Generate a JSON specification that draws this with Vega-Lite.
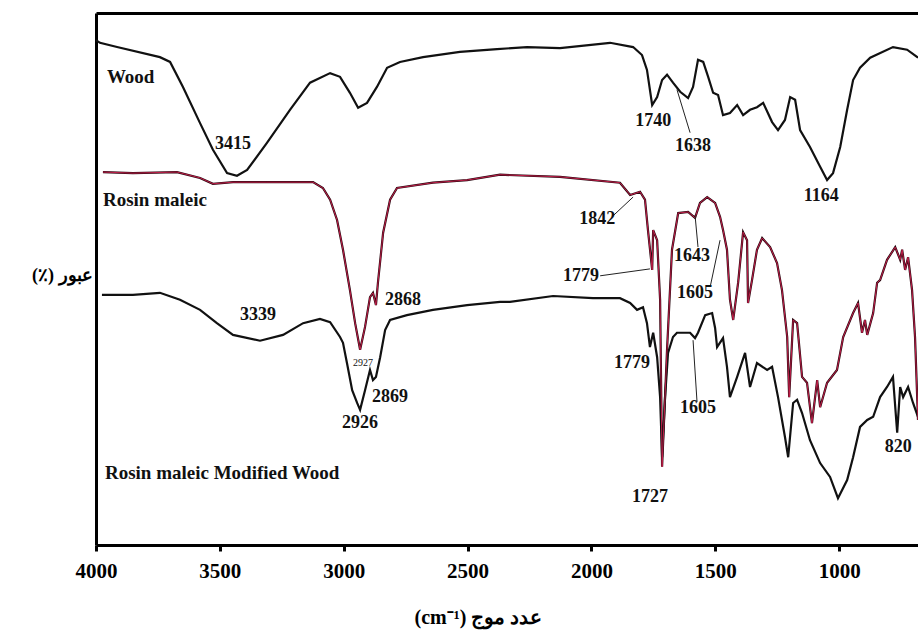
{
  "$schema": "https://vega.github.io/schema/vega-lite/v6.json",
  "width": 822,
  "height": 532,
  "autosize": {"type": "none"},
  "padding": {"left": 96, "top": 13, "right": 0, "bottom": 89},
  "background": "white",
  "config": {"view": {"stroke": null}, "font": "Liberation Serif"},
  "datasets": {
    "spectra": [
      {"s": "Wood", "wn": 4000, "t": 94.9}, {"s": "Wood", "wn": 3984, "t": 94.4}, {"s": "Wood", "wn": 3915, "t": 93.6}, {"s": "Wood", "wn": 3742, "t": 91.7}, {"s": "Wood", "wn": 3701, "t": 90.8}, {"s": "Wood", "wn": 3649, "t": 86.1}, {"s": "Wood", "wn": 3580, "t": 79.3}, {"s": "Wood", "wn": 3528, "t": 74.3}, {"s": "Wood", "wn": 3471, "t": 69.9}, {"s": "Wood", "wn": 3431, "t": 69.4}, {"s": "Wood", "wn": 3390, "t": 70.5}, {"s": "Wood", "wn": 3310, "t": 75.6}, {"s": "Wood", "wn": 3217, "t": 81.8}, {"s": "Wood", "wn": 3136, "t": 86.9}, {"s": "Wood", "wn": 3055, "t": 88.7}, {"s": "Wood", "wn": 3015, "t": 88.0}, {"s": "Wood", "wn": 2975, "t": 85.0}, {"s": "Wood", "wn": 2942, "t": 82.2}, {"s": "Wood", "wn": 2906, "t": 83.1}, {"s": "Wood", "wn": 2866, "t": 86.1}, {"s": "Wood", "wn": 2825, "t": 89.7}, {"s": "Wood", "wn": 2773, "t": 90.8}, {"s": "Wood", "wn": 2680, "t": 91.7}, {"s": "Wood", "wn": 2531, "t": 92.7}, {"s": "Wood", "wn": 2381, "t": 93.2}, {"s": "Wood", "wn": 2260, "t": 93.6}, {"s": "Wood", "wn": 2127, "t": 93.4}, {"s": "Wood", "wn": 1925, "t": 94.4}, {"s": "Wood", "wn": 1832, "t": 93.6}, {"s": "Wood", "wn": 1796, "t": 92.1}, {"s": "Wood", "wn": 1776, "t": 89.3}, {"s": "Wood", "wn": 1755, "t": 82.7}, {"s": "Wood", "wn": 1735, "t": 84.2}, {"s": "Wood", "wn": 1715, "t": 87.4}, {"s": "Wood", "wn": 1695, "t": 88.4}, {"s": "Wood", "wn": 1671, "t": 86.9}, {"s": "Wood", "wn": 1642, "t": 85.2}, {"s": "Wood", "wn": 1610, "t": 84.0}, {"s": "Wood", "wn": 1590, "t": 86.1}, {"s": "Wood", "wn": 1570, "t": 91.2}, {"s": "Wood", "wn": 1549, "t": 90.8}, {"s": "Wood", "wn": 1529, "t": 88.0}, {"s": "Wood", "wn": 1509, "t": 85.0}, {"s": "Wood", "wn": 1489, "t": 84.6}, {"s": "Wood", "wn": 1469, "t": 80.8}, {"s": "Wood", "wn": 1441, "t": 81.2}, {"s": "Wood", "wn": 1412, "t": 82.7}, {"s": "Wood", "wn": 1388, "t": 80.8}, {"s": "Wood", "wn": 1360, "t": 81.8}, {"s": "Wood", "wn": 1332, "t": 82.3}, {"s": "Wood", "wn": 1307, "t": 83.1}, {"s": "Wood", "wn": 1271, "t": 79.5}, {"s": "Wood", "wn": 1247, "t": 78.0}, {"s": "Wood", "wn": 1219, "t": 79.9}, {"s": "Wood", "wn": 1198, "t": 84.2}, {"s": "Wood", "wn": 1178, "t": 83.7}, {"s": "Wood", "wn": 1158, "t": 78.0}, {"s": "Wood", "wn": 1118, "t": 74.8}, {"s": "Wood", "wn": 1077, "t": 71.1}, {"s": "Wood", "wn": 1049, "t": 68.6}, {"s": "Wood", "wn": 1025, "t": 69.9}, {"s": "Wood", "wn": 996, "t": 74.8}, {"s": "Wood", "wn": 968, "t": 81.8}, {"s": "Wood", "wn": 944, "t": 87.4}, {"s": "Wood", "wn": 916, "t": 89.7}, {"s": "Wood", "wn": 875, "t": 91.6}, {"s": "Wood", "wn": 783, "t": 93.6}, {"s": "Wood", "wn": 726, "t": 93.1}, {"s": "Wood", "wn": 682, "t": 91.6},

      {"s": "Rosin maleic", "wn": 3972, "t": 70.1}, {"s": "Rosin maleic", "wn": 3851, "t": 69.9}, {"s": "Rosin maleic", "wn": 3673, "t": 70.1}, {"s": "Rosin maleic", "wn": 3580, "t": 69.0}, {"s": "Rosin maleic", "wn": 3528, "t": 67.9}, {"s": "Rosin maleic", "wn": 3447, "t": 68.2}, {"s": "Rosin maleic", "wn": 3310, "t": 68.2}, {"s": "Rosin maleic", "wn": 3124, "t": 68.2}, {"s": "Rosin maleic", "wn": 3084, "t": 67.1}, {"s": "Rosin maleic", "wn": 3055, "t": 64.9}, {"s": "Rosin maleic", "wn": 3027, "t": 61.1}, {"s": "Rosin maleic", "wn": 3003, "t": 55.5}, {"s": "Rosin maleic", "wn": 2975, "t": 47.9}, {"s": "Rosin maleic", "wn": 2954, "t": 41.7}, {"s": "Rosin maleic", "wn": 2934, "t": 36.7}, {"s": "Rosin maleic", "wn": 2914, "t": 41.0}, {"s": "Rosin maleic", "wn": 2894, "t": 46.6}, {"s": "Rosin maleic", "wn": 2882, "t": 47.4}, {"s": "Rosin maleic", "wn": 2870, "t": 45.1}, {"s": "Rosin maleic", "wn": 2862, "t": 49.3}, {"s": "Rosin maleic", "wn": 2841, "t": 58.7}, {"s": "Rosin maleic", "wn": 2813, "t": 64.9}, {"s": "Rosin maleic", "wn": 2785, "t": 67.1}, {"s": "Rosin maleic", "wn": 2640, "t": 68.1}, {"s": "Rosin maleic", "wn": 2502, "t": 68.6}, {"s": "Rosin maleic", "wn": 2369, "t": 69.6}, {"s": "Rosin maleic", "wn": 2127, "t": 69.2}, {"s": "Rosin maleic", "wn": 1885, "t": 68.1}, {"s": "Rosin maleic", "wn": 1844, "t": 65.8}, {"s": "Rosin maleic", "wn": 1804, "t": 66.4}, {"s": "Rosin maleic", "wn": 1784, "t": 64.9}, {"s": "Rosin maleic", "wn": 1772, "t": 59.2}, {"s": "Rosin maleic", "wn": 1755, "t": 51.7}, {"s": "Rosin maleic", "wn": 1751, "t": 59.2}, {"s": "Rosin maleic", "wn": 1735, "t": 57.3}, {"s": "Rosin maleic", "wn": 1723, "t": 46.1}, {"s": "Rosin maleic", "wn": 1715, "t": 14.7}, {"s": "Rosin maleic", "wn": 1695, "t": 36.7}, {"s": "Rosin maleic", "wn": 1675, "t": 55.5}, {"s": "Rosin maleic", "wn": 1650, "t": 62.4}, {"s": "Rosin maleic", "wn": 1610, "t": 62.6}, {"s": "Rosin maleic", "wn": 1582, "t": 61.5}, {"s": "Rosin maleic", "wn": 1562, "t": 64.3}, {"s": "Rosin maleic", "wn": 1533, "t": 65.4}, {"s": "Rosin maleic", "wn": 1501, "t": 64.3}, {"s": "Rosin maleic", "wn": 1481, "t": 61.7}, {"s": "Rosin maleic", "wn": 1469, "t": 59.2}, {"s": "Rosin maleic", "wn": 1453, "t": 55.5}, {"s": "Rosin maleic", "wn": 1441, "t": 46.1}, {"s": "Rosin maleic", "wn": 1428, "t": 42.3}, {"s": "Rosin maleic", "wn": 1408, "t": 49.3}, {"s": "Rosin maleic", "wn": 1388, "t": 58.8}, {"s": "Rosin maleic", "wn": 1372, "t": 57.3}, {"s": "Rosin maleic", "wn": 1368, "t": 45.5}, {"s": "Rosin maleic", "wn": 1352, "t": 49.8}, {"s": "Rosin maleic", "wn": 1332, "t": 55.5}, {"s": "Rosin maleic", "wn": 1311, "t": 57.7}, {"s": "Rosin maleic", "wn": 1279, "t": 56.0}, {"s": "Rosin maleic", "wn": 1251, "t": 53.0}, {"s": "Rosin maleic", "wn": 1231, "t": 47.9}, {"s": "Rosin maleic", "wn": 1210, "t": 39.1}, {"s": "Rosin maleic", "wn": 1202, "t": 27.8}, {"s": "Rosin maleic", "wn": 1186, "t": 42.3}, {"s": "Rosin maleic", "wn": 1170, "t": 41.7}, {"s": "Rosin maleic", "wn": 1150, "t": 31.6}, {"s": "Rosin maleic", "wn": 1130, "t": 30.5}, {"s": "Rosin maleic", "wn": 1110, "t": 22.9}, {"s": "Rosin maleic", "wn": 1089, "t": 31.0}, {"s": "Rosin maleic", "wn": 1077, "t": 25.9}, {"s": "Rosin maleic", "wn": 1049, "t": 30.5}, {"s": "Rosin maleic", "wn": 1009, "t": 32.9}, {"s": "Rosin maleic", "wn": 984, "t": 39.1}, {"s": "Rosin maleic", "wn": 944, "t": 43.6}, {"s": "Rosin maleic", "wn": 924, "t": 45.5}, {"s": "Rosin maleic", "wn": 908, "t": 39.9}, {"s": "Rosin maleic", "wn": 896, "t": 42.3}, {"s": "Rosin maleic", "wn": 887, "t": 39.5}, {"s": "Rosin maleic", "wn": 863, "t": 43.6}, {"s": "Rosin maleic", "wn": 847, "t": 49.3}, {"s": "Rosin maleic", "wn": 835, "t": 49.8}, {"s": "Rosin maleic", "wn": 807, "t": 53.6}, {"s": "Rosin maleic", "wn": 774, "t": 56.0}, {"s": "Rosin maleic", "wn": 754, "t": 53.6}, {"s": "Rosin maleic", "wn": 746, "t": 55.5}, {"s": "Rosin maleic", "wn": 734, "t": 51.7}, {"s": "Rosin maleic", "wn": 722, "t": 54.1}, {"s": "Rosin maleic", "wn": 706, "t": 47.9}, {"s": "Rosin maleic", "wn": 694, "t": 39.1}, {"s": "Rosin maleic", "wn": 682, "t": 23.5},

      {"s": "Rosin maleic Modified Wood", "wn": 3976, "t": 47.0}, {"s": "Rosin maleic Modified Wood", "wn": 3851, "t": 47.0}, {"s": "Rosin maleic Modified Wood", "wn": 3742, "t": 47.4}, {"s": "Rosin maleic Modified Wood", "wn": 3661, "t": 46.1}, {"s": "Rosin maleic Modified Wood", "wn": 3580, "t": 44.2}, {"s": "Rosin maleic Modified Wood", "wn": 3512, "t": 41.7}, {"s": "Rosin maleic Modified Wood", "wn": 3447, "t": 39.5}, {"s": "Rosin maleic Modified Wood", "wn": 3338, "t": 38.4}, {"s": "Rosin maleic Modified Wood", "wn": 3245, "t": 39.5}, {"s": "Rosin maleic Modified Wood", "wn": 3164, "t": 41.7}, {"s": "Rosin maleic Modified Wood", "wn": 3096, "t": 42.5}, {"s": "Rosin maleic Modified Wood", "wn": 3055, "t": 41.9}, {"s": "Rosin maleic Modified Wood", "wn": 3015, "t": 39.1}, {"s": "Rosin maleic Modified Wood", "wn": 3003, "t": 38.0}, {"s": "Rosin maleic Modified Wood", "wn": 2987, "t": 34.2}, {"s": "Rosin maleic Modified Wood", "wn": 2966, "t": 29.1}, {"s": "Rosin maleic Modified Wood", "wn": 2946, "t": 26.7}, {"s": "Rosin maleic Modified Wood", "wn": 2934, "t": 25.4}, {"s": "Rosin maleic Modified Wood", "wn": 2914, "t": 29.1}, {"s": "Rosin maleic Modified Wood", "wn": 2894, "t": 32.9}, {"s": "Rosin maleic Modified Wood", "wn": 2882, "t": 31.0}, {"s": "Rosin maleic Modified Wood", "wn": 2870, "t": 31.6}, {"s": "Rosin maleic Modified Wood", "wn": 2853, "t": 35.3}, {"s": "Rosin maleic Modified Wood", "wn": 2833, "t": 40.4}, {"s": "Rosin maleic Modified Wood", "wn": 2813, "t": 42.3}, {"s": "Rosin maleic Modified Wood", "wn": 2745, "t": 43.2}, {"s": "Rosin maleic Modified Wood", "wn": 2640, "t": 44.2}, {"s": "Rosin maleic Modified Wood", "wn": 2502, "t": 45.1}, {"s": "Rosin maleic Modified Wood", "wn": 2369, "t": 45.7}, {"s": "Rosin maleic Modified Wood", "wn": 2329, "t": 45.7}, {"s": "Rosin maleic Modified Wood", "wn": 2155, "t": 46.8}, {"s": "Rosin maleic Modified Wood", "wn": 1994, "t": 46.4}, {"s": "Rosin maleic Modified Wood", "wn": 1885, "t": 46.4}, {"s": "Rosin maleic Modified Wood", "wn": 1844, "t": 45.5}, {"s": "Rosin maleic Modified Wood", "wn": 1816, "t": 44.2}, {"s": "Rosin maleic Modified Wood", "wn": 1792, "t": 44.7}, {"s": "Rosin maleic Modified Wood", "wn": 1776, "t": 41.7}, {"s": "Rosin maleic Modified Wood", "wn": 1764, "t": 37.2}, {"s": "Rosin maleic Modified Wood", "wn": 1751, "t": 39.9}, {"s": "Rosin maleic Modified Wood", "wn": 1735, "t": 35.3}, {"s": "Rosin maleic Modified Wood", "wn": 1723, "t": 27.8}, {"s": "Rosin maleic Modified Wood", "wn": 1715, "t": 16.5}, {"s": "Rosin maleic Modified Wood", "wn": 1703, "t": 27.8}, {"s": "Rosin maleic Modified Wood", "wn": 1691, "t": 36.1}, {"s": "Rosin maleic Modified Wood", "wn": 1671, "t": 39.1}, {"s": "Rosin maleic Modified Wood", "wn": 1655, "t": 39.9}, {"s": "Rosin maleic Modified Wood", "wn": 1602, "t": 39.9}, {"s": "Rosin maleic Modified Wood", "wn": 1582, "t": 38.9}, {"s": "Rosin maleic Modified Wood", "wn": 1570, "t": 39.9}, {"s": "Rosin maleic Modified Wood", "wn": 1541, "t": 43.2}, {"s": "Rosin maleic Modified Wood", "wn": 1513, "t": 43.6}, {"s": "Rosin maleic Modified Wood", "wn": 1501, "t": 40.8}, {"s": "Rosin maleic Modified Wood", "wn": 1493, "t": 37.2}, {"s": "Rosin maleic Modified Wood", "wn": 1469, "t": 38.9}, {"s": "Rosin maleic Modified Wood", "wn": 1453, "t": 33.5}, {"s": "Rosin maleic Modified Wood", "wn": 1441, "t": 27.8}, {"s": "Rosin maleic Modified Wood", "wn": 1412, "t": 31.6}, {"s": "Rosin maleic Modified Wood", "wn": 1380, "t": 36.1}, {"s": "Rosin maleic Modified Wood", "wn": 1360, "t": 29.7}, {"s": "Rosin maleic Modified Wood", "wn": 1332, "t": 34.2}, {"s": "Rosin maleic Modified Wood", "wn": 1291, "t": 32.9}, {"s": "Rosin maleic Modified Wood", "wn": 1271, "t": 33.5}, {"s": "Rosin maleic Modified Wood", "wn": 1247, "t": 27.8}, {"s": "Rosin maleic Modified Wood", "wn": 1219, "t": 20.3}, {"s": "Rosin maleic Modified Wood", "wn": 1206, "t": 16.5}, {"s": "Rosin maleic Modified Wood", "wn": 1186, "t": 26.7}, {"s": "Rosin maleic Modified Wood", "wn": 1170, "t": 27.3}, {"s": "Rosin maleic Modified Wood", "wn": 1150, "t": 24.8}, {"s": "Rosin maleic Modified Wood", "wn": 1118, "t": 19.7}, {"s": "Rosin maleic Modified Wood", "wn": 1077, "t": 15.4}, {"s": "Rosin maleic Modified Wood", "wn": 1037, "t": 12.8}, {"s": "Rosin maleic Modified Wood", "wn": 1005, "t": 8.8}, {"s": "Rosin maleic Modified Wood", "wn": 968, "t": 12.2}, {"s": "Rosin maleic Modified Wood", "wn": 944, "t": 16.5}, {"s": "Rosin maleic Modified Wood", "wn": 916, "t": 22.2}, {"s": "Rosin maleic Modified Wood", "wn": 887, "t": 23.5}, {"s": "Rosin maleic Modified Wood", "wn": 863, "t": 24.1}, {"s": "Rosin maleic Modified Wood", "wn": 835, "t": 27.8}, {"s": "Rosin maleic Modified Wood", "wn": 807, "t": 29.7}, {"s": "Rosin maleic Modified Wood", "wn": 783, "t": 31.6}, {"s": "Rosin maleic Modified Wood", "wn": 766, "t": 21.1}, {"s": "Rosin maleic Modified Wood", "wn": 754, "t": 29.7}, {"s": "Rosin maleic Modified Wood", "wn": 742, "t": 27.8}, {"s": "Rosin maleic Modified Wood", "wn": 722, "t": 29.7}, {"s": "Rosin maleic Modified Wood", "wn": 702, "t": 26.7}, {"s": "Rosin maleic Modified Wood", "wn": 682, "t": 24.1}
    ],
    "series": [
      {"txt": "Wood", "wn": 3956, "t": 88.0},
      {"txt": "Rosin maleic", "wn": 3972, "t": 64.9},
      {"txt": "Rosin maleic Modified Wood", "wn": 3964, "t": 13.5}
    ],
    "peaks": [
      {"txt": "3415", "wn": 3447, "t": 75.4},
      {"txt": "3339", "wn": 3346, "t": 43.2},
      {"txt": "2868", "wn": 2761, "t": 46.1},
      {"txt": "2869", "wn": 2813, "t": 27.8},
      {"txt": "2926", "wn": 2934, "t": 22.9},
      {"txt": "1740", "wn": 1751, "t": 79.7},
      {"txt": "1638", "wn": 1590, "t": 75.0},
      {"txt": "1164", "wn": 1073, "t": 65.6},
      {"txt": "1842", "wn": 1977, "t": 61.3},
      {"txt": "1643", "wn": 1594, "t": 54.3},
      {"txt": "1779", "wn": 2042, "t": 50.6},
      {"txt": "1605", "wn": 1582, "t": 47.4},
      {"txt": "1779", "wn": 1836, "t": 34.2},
      {"txt": "1605", "wn": 1570, "t": 25.8},
      {"txt": "1727", "wn": 1764, "t": 9.0},
      {"txt": "820", "wn": 762, "t": 18.4}
    ],
    "small": [
      {"txt": "2927", "wn": 2922, "t": 34.2}
    ],
    "leaders": [
      {"x1": 1655, "y1": 85.6, "x2": 1602, "y2": 77.5},
      {"x1": 1917, "y1": 61.7, "x2": 1832, "y2": 65.4},
      {"x1": 1965, "y1": 50.6, "x2": 1764, "y2": 51.9},
      {"x1": 1582, "y1": 62.0, "x2": 1570, "y2": 56.0},
      {"x1": 1481, "y1": 57.3, "x2": 1521, "y2": 48.5},
      {"x1": 1590, "y1": 38.5, "x2": 1574, "y2": 26.9}
    ]
  },
  "resolve": {"axis": {"x": "independent", "y": "independent"}},
  "layer": [
    {
      "data": {"name": "spectra"},
      "mark": {"type": "line", "strokeWidth": 2.2},
      "encoding": {
        "x": {
          "field": "wn", "type": "quantitative",
          "scale": {"domain": [4000, 682], "nice": false, "zero": false},
          "axis": {
            "orient": "bottom", "values": [4000, 3500, 3000, 2500, 2000, 1500, 1000], "format": "d",
            "grid": false, "domainColor": "black", "domainWidth": 3,
            "tickColor": "black", "tickWidth": 3, "tickSize": 6,
            "labelFont": "Liberation Serif", "labelFontWeight": "bold", "labelFontSize": 21,
            "labelColor": "black", "labelPadding": 9, "labelFlush": false,
            "title": "(cm⁻¹) عدد موج", "titleFont": "Liberation Serif", "titleFontWeight": "bold",
            "titleFontSize": 20, "titleColor": "black", "titleX": 382, "titleY": 72,
            "titleBaseline": "middle", "titleAlign": "center"
          }
        },
        "y": {
          "field": "t", "type": "quantitative",
          "scale": {"domain": [0, 100], "nice": false},
          "axis": {
            "orient": "left", "grid": false, "ticks": false, "labels": false,
            "domainColor": "black", "domainWidth": 3,
            "title": "(٪) عبور", "titleFont": "Liberation Serif", "titleFontWeight": "bold",
            "titleFontSize": 18, "titleColor": "black", "titleAngle": 0,
            "titleAlign": "right", "titleBaseline": "middle", "titleX": -4, "titleY": 262
          }
        },
        "color": {
          "field": "s", "type": "nominal",
          "scale": {"domain": ["Wood", "Rosin maleic", "Rosin maleic Modified Wood"], "range": ["#111111", "#2a0810", "#111111"]},
          "legend": null
        }
      }
    },
    {
      "data": {"name": "spectra"},
      "transform": [{"filter": "datum.s === 'Rosin maleic'"}],
      "mark": {"type": "line", "strokeWidth": 0.9, "color": "#d0204f"},
      "encoding": {
        "x": {"field": "wn", "type": "quantitative", "scale": {"domain": [4000, 682], "nice": false, "zero": false}, "axis": null},
        "y": {"field": "t", "type": "quantitative", "scale": {"domain": [0, 100], "nice": false}, "axis": null}
      }
    },
    {
      "data": {"name": "leaders"},
      "mark": {"type": "rule", "strokeWidth": 1, "color": "#222222"},
      "encoding": {
        "x": {
          "field": "x1", "type": "quantitative", "scale": {"domain": [4000, 682], "nice": false, "zero": false},
          "axis": {"orient": "top", "labels": false, "ticks": false, "grid": false, "domainColor": "black", "domainWidth": 3, "title": null}
        },
        "y": {"field": "y1", "type": "quantitative", "scale": {"domain": [0, 100], "nice": false}, "axis": null},
        "x2": {"field": "x2"},
        "y2": {"field": "y2"}
      }
    },
    {
      "data": {"name": "series"},
      "mark": {"type": "text", "align": "left", "baseline": "middle", "font": "Liberation Serif", "fontWeight": "bold", "fontSize": 19, "color": "#111111"},
      "encoding": {
        "x": {"field": "wn", "type": "quantitative", "scale": {"domain": [4000, 682], "nice": false, "zero": false}, "axis": null},
        "y": {"field": "t", "type": "quantitative", "scale": {"domain": [0, 100], "nice": false}, "axis": null},
        "text": {"field": "txt"}
      }
    },
    {
      "data": {"name": "peaks"},
      "mark": {"type": "text", "align": "center", "baseline": "middle", "font": "Liberation Serif", "fontWeight": "bold", "fontSize": 18, "color": "#111111"},
      "encoding": {
        "x": {"field": "wn", "type": "quantitative", "scale": {"domain": [4000, 682], "nice": false, "zero": false}, "axis": null},
        "y": {"field": "t", "type": "quantitative", "scale": {"domain": [0, 100], "nice": false}, "axis": null},
        "text": {"field": "txt"}
      }
    },
    {
      "data": {"name": "small"},
      "mark": {"type": "text", "align": "center", "baseline": "middle", "font": "Liberation Serif", "fontSize": 10, "color": "#111111"},
      "encoding": {
        "x": {"field": "wn", "type": "quantitative", "scale": {"domain": [4000, 682], "nice": false, "zero": false}, "axis": null},
        "y": {"field": "t", "type": "quantitative", "scale": {"domain": [0, 100], "nice": false}, "axis": null},
        "text": {"field": "txt"}
      }
    }
  ]
}
